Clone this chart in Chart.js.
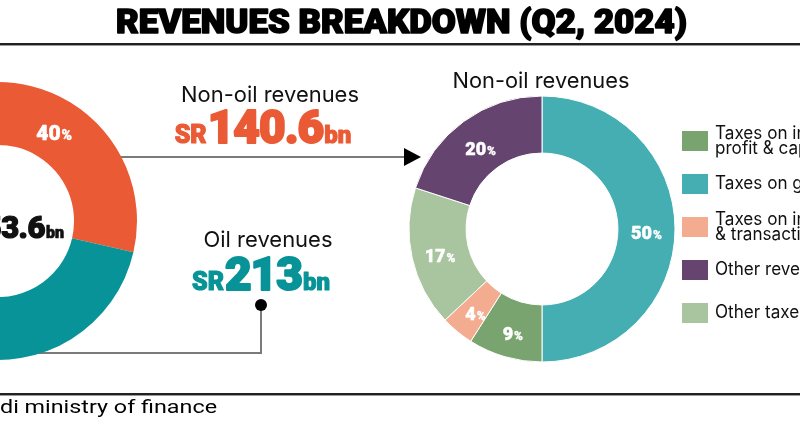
<!DOCTYPE html>
<html><head><meta charset="utf-8">
<script src="https://cdn.jsdelivr.net/npm/chart.js@4"></script>
<style>
html,body{margin:0;padding:0;background:#fff;}
#wrap{position:relative;width:800px;height:425px;overflow:hidden;background:#fff;}
#main{position:absolute;left:0;top:0;z-index:0;}
#left{position:absolute;left:-152px;top:71px;z-index:1;}
</style></head><body>
<div id="wrap">
<canvas id="main" width="800" height="425"></canvas>
<canvas id="left" width="300" height="300"></canvas>
</div>
<script>
// ---- data ----
const title = "REVENUES BREAKDOWN (Q2, 2024)";
const sourceText = "Source: Saudi ministry of finance";
const totalCategories = ["Non-oil revenues", "Oil revenues"];
const totalValues = [140.6, 213];            // SR bn
const totalColors = ["#EA5A35", "#079397"];
const nonOilTitle = "Non-oil revenues";
const nonOilCategories = ["Taxes on goods & services", "Taxes on income,\nprofit & capital gains", "Taxes on international trade\n& transactions", "Other taxes", "Other revenues"];
const nonOilShares = [50, 9, 4, 17, 20];     // %
const nonOilColors = ["#44AEB2", "#79A46F", "#F4AC91", "#A8C59F", "#65446F"];
const legendOrder = [1, 0, 2, 4, 3];

const BOLD = "Roboto, 'Liberation Sans', sans-serif";
const TXT = "Inter, 'Open Sans', sans-serif";

function fmt(v){ return (Math.round(v*10)/10).toString(); }

// draws pieces [{t, size, color}] in sequence, anchored by align at x, on baseline y
function drawPieces(ctx, pieces, x, y, align, spacing, stroke){
  let widths = pieces.map(p => { ctx.font = `900 ${p.size}px ${BOLD}`; ctx.letterSpacing = (p.ls||0)+'px'; return ctx.measureText(p.t).width; });
  const total = widths.reduce((a,b)=>a+b,0) + (spacing||0)*(pieces.length-1);
  let sx = align === 'center' ? x - total/2 : align === 'right' ? x - total : x;
  ctx.textAlign = 'left'; ctx.textBaseline = 'alphabetic';
  ctx.lineJoin = 'round';
  pieces.forEach((p,i) => {
    ctx.font = `900 ${p.size}px ${BOLD}`;
    ctx.letterSpacing = (p.ls||0)+'px';
    ctx.fillStyle = p.color;
    ctx.fillText(p.t, sx, y);
    if (stroke) { ctx.strokeStyle = p.color; ctx.lineWidth = stroke * p.size / 30; ctx.strokeText(p.t, sx, y); }
    sx += widths[i] + (spacing||0);
  });
  ctx.letterSpacing = '0px';
}

function pctPlugin(big, small, dy){
  return {
    id: 'pctLabels',
    afterDatasetsDraw(chart){
      const ctx = chart.ctx;
      const meta = chart.getDatasetMeta(0);
      const data = chart.data.datasets[0].data;
      const total = data.reduce((a,b)=>a+b,0);
      ctx.save();
      meta.data.forEach((arc,i) => {
        const p = arc.tooltipPosition();
        const pct = Math.round(data[i]/total*100);
        drawPieces(ctx, [{t:String(pct), size:big, color:'#fff'}, {t:'%', size:small, color:'#fff'}], p.x, p.y + big*0.711/2 + dy, 'center', 1, 0.8);
      });
      ctx.restore();
    }
  };
}

// ---- right (non-oil) chart with page annotations ----
const annot = {
  id: 'annot',
  beforeDraw(chart){
    const ctx = chart.ctx;
    ctx.save();
    ctx.fillStyle = '#fff';
    ctx.fillRect(0,0,chart.width,chart.height);
    // rules
    ctx.fillStyle = '#222';
    ctx.fillRect(0, 43, 800, 2);
    ctx.fillRect(0, 393, 800, 2);
    ctx.fillStyle = '#999';
    ctx.fillRect(0, 45, 800, 1);
    ctx.fillRect(0, 395, 800, 1);
    // connector lines
    ctx.strokeStyle = '#7a7a7a';
    ctx.lineWidth = 2;
    ctx.beginPath();
    ctx.moveTo(110, 157); ctx.lineTo(406, 157);
    ctx.stroke();
    ctx.beginPath();
    ctx.moveTo(261, 305); ctx.lineTo(261, 353); ctx.lineTo(20, 353);
    ctx.stroke();
    // arrow
    ctx.fillStyle = '#000';
    ctx.beginPath();
    ctx.moveTo(404, 148); ctx.lineTo(421, 157); ctx.lineTo(404, 166); ctx.closePath();
    ctx.fill();
    // dot
    ctx.beginPath();
    ctx.arc(261, 305, 6, 0, Math.PI*2);
    ctx.fill();
    ctx.restore();
  },
  afterDraw(chart){
    const ctx = chart.ctx;
    ctx.save();
    ctx.textBaseline = 'alphabetic';
    // title
    ctx.font = `900 33px ${BOLD}`;
    let w = ctx.measureText(title).width;
    ctx.save();
    ctx.translate(116, 33);
    ctx.scale(571/w, 1);
    ctx.fillStyle = '#000';
    ctx.strokeStyle = '#000';
    ctx.lineWidth = 1.6;
    ctx.lineJoin = 'round';
    ctx.textAlign = 'left';
    ctx.fillText(title, 0, 0);
    ctx.strokeText(title, 0, 0);
    ctx.restore();
    // source
    ctx.font = `400 19px ${BOLD}`;
    w = ctx.measureText('di ministry of finance').width;
    ctx.save();
    ctx.translate(217, 413);
    ctx.scale(217/w, 1);
    ctx.fillStyle = '#000';
    ctx.textAlign = 'right';
    ctx.fillText(sourceText, 0, 0);
    ctx.restore();

    // middle annotations
    function plain(t, cx, by, width){
      ctx.font = `400 22px ${TXT}`;
      const mw = ctx.measureText(t).width;
      ctx.save();
      ctx.translate(cx, by);
      ctx.scale(width/mw, 1);
      ctx.fillStyle = '#111';
      ctx.textAlign = 'center';
      ctx.fillText(t, 0, 0);
      ctx.restore();
    }
    plain(totalCategories[0], 270, 102, 178);
    plain(totalCategories[1], 268, 247, 129);
    plain(nonOilTitle, 541, 88, 177);
    drawPieces(ctx, [{t:'SR', size:25, color:totalColors[0]}, {t:fmt(totalValues[0]), size:46, color:totalColors[0], ls:-1}, {t:'bn', size:24, color:totalColors[0]}], 263, 143, 'center', 1, 1.3);
    drawPieces(ctx, [{t:'SR', size:25, color:totalColors[1]}, {t:fmt(totalValues[1]), size:46, color:totalColors[1], ls:-1}, {t:'bn', size:24, color:totalColors[1]}], 261, 290, 'center', 1, 1.3);

    // legend
    const ds = chart.data.datasets[0];
    ctx.font = `400 18px ${TXT}`;
    ctx.textAlign = 'left';
    legendOrder.forEach((idx, k) => {
      const top = 131 + k*43;
      ctx.fillStyle = ds.backgroundColor[idx];
      ctx.fillRect(682, top, 26, 20);
      ctx.fillStyle = '#111';
      const lines = chart.data.labels[idx].split('\n');
      ctx.save();
      ctx.translate(715, top);
      ctx.scale(0.95, 1);
      if (lines.length === 1) {
        ctx.fillText(lines[0], 0, 15);
      } else {
        lines.forEach((ln, j) => ctx.fillText(ln, 0, 8 + j*15));
      }
      ctx.restore();
    });
    ctx.restore();
  }
};

new Chart(document.getElementById('main'), {
  type: 'doughnut',
  data: {
    labels: nonOilCategories,
    datasets: [{ data: nonOilShares, backgroundColor: nonOilColors, borderColor: '#fff', borderWidth: 1 }]
  },
  options: {
    responsive: false,
    animation: false,
    radius: 133,
    cutout: '57.1%',
    rotation: 0,
    layout: { padding: { left: 402, right: 118, top: 89, bottom: 56 } },
    plugins: { legend: { display: false }, tooltip: { enabled: false } }
  },
  plugins: [annot, pctPlugin(18, 12, 4)]
});

// ---- left (total) chart ----
const centerLabel = {
  id: 'centerLabel',
  afterDraw(chart){
    const ctx = chart.ctx;
    const total = chart.data.datasets[0].data.reduce((a,b)=>a+b,0);
    const arc = chart.getDatasetMeta(0).data[0];
    ctx.save();
    drawPieces(ctx, [{t:'SR', size:16, color:'#111'}, {t:fmt(total), size:31, color:'#111', ls:-0.5}, {t:'bn', size:16, color:'#111'}], arc.x + 66, arc.y + 17, 'right', 1, 1.2);
    ctx.restore();
  }
};

new Chart(document.getElementById('left'), {
  type: 'doughnut',
  data: {
    labels: totalCategories,
    datasets: [{ data: totalValues, backgroundColor: totalColors, borderWidth: 0 }]
  },
  options: {
    responsive: false,
    animation: false,
    radius: 139,
    cutout: '54.7%',
    rotation: -40.1,
    layout: { padding: 0 },
    plugins: { legend: { display: false }, tooltip: { enabled: false } }
  },
  plugins: [pctPlugin(21, 14, 3), centerLabel]
});
</script>
</body></html>
